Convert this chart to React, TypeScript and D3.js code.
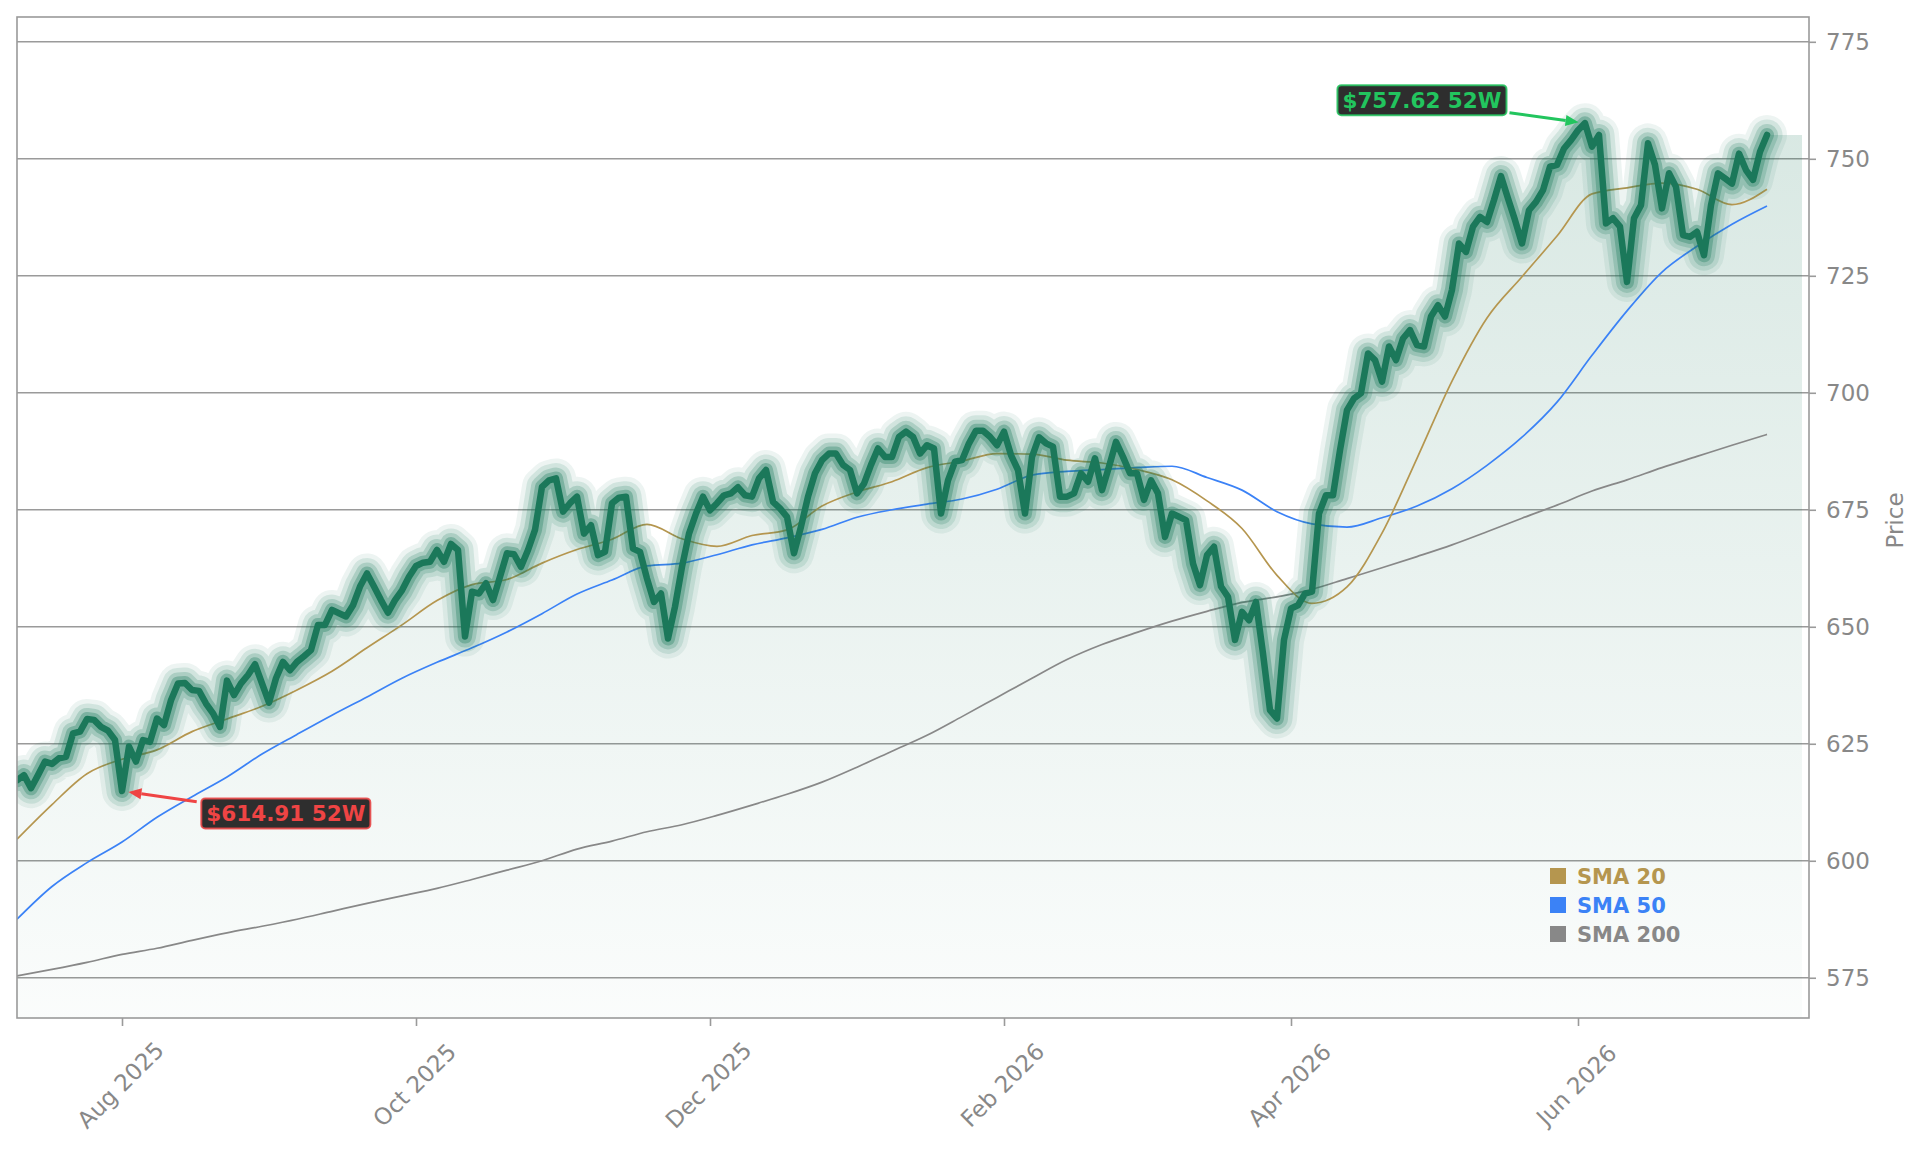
import React, { useEffect, useRef } from "react";
import * as d3 from "d3";

// ---------------- DATA ----------------
const FIRST_SESSION = "2025-07-11";
const MARKET_HOLIDAYS = [
  "2025-09-01", "2025-11-27", "2025-12-25", "2026-01-01", "2026-01-19",
  "2026-02-16", "2026-04-03", "2026-05-25", "2026-06-19", "2026-07-03",
];

const closes = [
  617.2, 618.3, 615.5, 618.3, 621.2, 620.7, 621.9, 622.2, 627.2, 627.6,
  630.3, 630.1, 628.6, 627.8, 625.8, 614.91, 624.4, 621.2, 625.8, 625.4,
  630.4, 629.0, 634.3, 637.9, 638.0, 636.5, 636.3, 633.6, 631.5, 628.6,
  638.5, 635.4, 637.9, 639.7, 642.0, 637.9, 633.8, 639.0, 642.5, 640.7,
  642.5, 643.7, 645.0, 650.4, 650.4, 653.6, 652.9, 652.2, 654.6, 658.6,
  661.4, 658.6, 655.7, 653.0, 655.7, 657.8, 660.7, 663.0, 663.7, 663.9,
  666.4, 663.9, 667.7, 666.4, 647.9, 657.5, 657.1, 659.3, 655.7, 660.7,
  665.7, 665.5, 662.8, 666.4, 670.7, 679.9, 681.3, 681.7, 674.6, 676.4,
  677.8, 669.9, 671.7, 665.3, 666.0, 676.4, 677.6, 677.8, 666.7, 666.0,
  660.3, 655.3, 657.1, 647.5, 654.3, 662.8, 669.9, 674.2, 677.8, 674.9,
  676.4, 678.1, 678.5, 679.8, 678.1, 677.8, 681.7, 683.5, 676.7, 675.3,
  673.5, 665.7, 671.4, 677.8, 682.8, 685.6, 687.0, 687.0, 684.6, 683.5,
  678.5, 680.6, 684.6, 688.1, 686.3, 686.3, 690.6, 691.7, 690.6, 687.0,
  688.8, 688.1, 674.2, 681.3, 685.3, 685.6, 689.2, 691.9, 691.9, 690.6,
  688.8, 691.7, 686.7, 683.5, 674.2, 686.3, 690.5, 689.2, 688.5, 677.8,
  677.8, 678.5, 682.8, 681.0, 686.0, 679.2, 684.2, 689.5, 686.3, 682.8,
  682.8, 677.1, 681.3, 678.5, 669.2, 674.2, 673.5, 672.8, 663.5, 658.9,
  665.3, 667.1, 658.6, 656.4, 647.2, 653.2, 651.4, 655.3, 644.3, 632.2,
  630.4, 647.2, 653.9, 654.6, 657.1, 657.5, 674.2, 678.1, 678.1, 687.7,
  696.3, 698.8, 699.9, 708.4, 707.0, 702.4, 709.9, 707.0, 711.6, 713.4,
  710.2, 709.9, 716.3, 718.7, 716.3, 722.0, 731.9, 730.1, 735.5, 737.6,
  736.5, 741.2, 746.3, 741.5, 736.9, 731.9, 739.0, 740.8, 743.3, 748.3,
  748.7, 752.2, 754.0, 756.1, 757.62, 752.6, 755.1, 736.2, 737.3, 735.5,
  723.7, 737.3, 740.1, 753.3, 748.7, 739.4, 746.9, 744.0, 733.7, 733.3,
  734.4, 729.4, 740.1, 746.9, 745.8, 744.7, 751.1, 747.6, 745.5, 751.5,
  755.1,
];

// moving averages, read every SMA_SAMPLE_STEP sessions
const SMA_SAMPLE_STEP = 5;
const sma20 = [
  604.6, 612.0, 618.6, 621.7, 623.7, 627.6, 630.3, 633.0, 636.5, 640.5,
  645.5, 650.4, 655.6, 659.0, 660.1, 663.6, 666.5, 668.7, 671.9, 668.8,
  667.2, 669.5, 670.7, 675.8, 678.8, 681.0, 684.0, 685.4, 687.0, 686.9,
  685.6, 685.0, 683.6, 681.4, 676.9, 671.0, 661.0, 655.0, 658.5, 670.0,
  686.0, 702.5, 716.0, 724.8, 733.5, 742.5, 743.8, 744.8, 743.5, 740.2,
  743.5,
];
const sma50 = [
  587.5, 594.5, 599.6, 604.0, 609.3, 613.7, 617.9, 622.8, 627.0, 631.1,
  635.0, 639.0, 642.4, 645.5, 648.9, 652.8, 657.0, 660.0, 663.0, 663.6,
  665.4, 667.5, 669.0, 670.8, 673.4, 675.0, 676.2, 677.3, 679.4, 682.4,
  683.2, 683.6, 684.0, 684.3, 681.9, 679.2, 674.6, 672.0, 671.3, 673.3,
  675.8, 679.5, 684.5, 690.5, 698.0, 708.0, 717.5, 725.8, 731.3, 736.0,
  739.9,
];
const sma200 = [
  575.4, 576.8, 578.3, 580.0, 581.3, 583.0, 584.6, 586.0, 587.5, 589.2,
  590.9, 592.5, 594.1, 596.0, 598.0, 600.0, 602.5, 604.2, 606.2, 607.7,
  609.7, 611.9, 614.2, 616.8, 620.0, 623.4, 626.8, 630.8, 634.9, 639.0,
  643.0, 646.2, 648.8, 651.2, 653.3, 655.2, 656.4, 658.0, 660.3, 662.6,
  665.0, 667.5, 670.3, 673.2, 676.0, 679.0, 681.4, 684.0, 686.4, 688.8,
  691.1,
];

const priceTicks = [575, 600, 625, 650, 675, 700, 725, 750, 775];
const monthTicks = ["2025-08", "2025-10", "2025-12", "2026-02", "2026-04", "2026-06"];
const smaNames = ["SMA 20", "SMA 50", "SMA 200"];
const Y_AXIS_TITLE = "Price";
const EXTREME_SUFFIX = "52W";

// ---------------- LAYOUT / STYLE ----------------
const W = 1921;
const H = 1151;
const PLOT = { left: 17, top: 17, right: 1809, bottom: 1018 };
const Y_DOMAIN: [number, number] = [566.4, 780.3];
const X_PAD_SESSIONS = 6;
const AREA_EXTEND_SESSIONS = 5;
const FONT = "'DejaVu Sans', Verdana, sans-serif";
const TICK_FONT = 23;
const GRID = "#9a9a9a";
const LABEL = "#888888";
const PRICE = "#1b785a";
const SMA_COLORS = ["#b5964f", "#3b82f6", "#888888"];
const HI = "#22c55e";
const LO = "#ef4444";
const GLOW = [
  { w: 40, o: 0.08 },
  { w: 31, o: 0.13 },
  { w: 22, o: 0.2 },
  { w: 14, o: 0.33 },
];

type Pt = { i: number; v: number };

function buildSessions(start: string, count: number, holidays: string[]): Date[] {
  const parse = d3.timeParse("%Y-%m-%d");
  const fmt = d3.timeFormat("%Y-%m-%d");
  const hs = new Set(holidays);
  const out: Date[] = [];
  let d = parse(start) as Date;
  while (out.length < count) {
    const wd = d.getDay();
    if (wd !== 0 && wd !== 6 && !hs.has(fmt(d))) out.push(d);
    d = d3.timeDay.offset(d, 1);
  }
  return out;
}

export default function App() {
  const ref = useRef<SVGSVGElement | null>(null);

  useEffect(() => {
    document.body.style.margin = "0";
    const el = ref.current;
    if (!el) return;
    const svg = d3.select(el);
    svg.selectAll("*").remove();

    const n = closes.length;
    const sessions = buildSessions(FIRST_SESSION, n, MARKET_HOLIDAYS);
    const x = d3.scaleLinear().domain([0, n - 1 + X_PAD_SESSIONS]).range([PLOT.left, PLOT.right]);
    const y = d3.scaleLinear().domain(Y_DOMAIN).range([PLOT.bottom, PLOT.top]);

    const pts: Pt[] = closes.map((v, i) => ({ i, v }));
    const maxV = d3.max(closes) as number;

    const defs = svg.append("defs");
    const grad = defs
      .append("linearGradient")
      .attr("id", "priceFill")
      .attr("gradientUnits", "userSpaceOnUse")
      .attr("x1", 0).attr("x2", 0)
      .attr("y1", y(maxV)).attr("y2", PLOT.bottom);
    grad.append("stop").attr("offset", 0).attr("stop-color", PRICE).attr("stop-opacity", 0.17);
    grad.append("stop").attr("offset", 1).attr("stop-color", PRICE).attr("stop-opacity", 0.02);
    defs.append("clipPath").attr("id", "plotClip").append("rect")
      .attr("x", PLOT.left).attr("y", PLOT.top)
      .attr("width", PLOT.right - PLOT.left).attr("height", PLOT.bottom - PLOT.top);

    svg.append("rect").attr("width", W).attr("height", H).attr("fill", "#ffffff");

    // grid
    svg.append("g").selectAll("line").data(priceTicks).join("line")
      .attr("x1", PLOT.left).attr("x2", PLOT.right)
      .attr("y1", (d) => y(d)).attr("y2", (d) => y(d))
      .attr("stroke", GRID).attr("stroke-width", 1.6);

    const plot = svg.append("g").attr("clip-path", "url(#plotClip)");

    // area
    const areaPts: Pt[] = [...pts, { i: n - 1 + AREA_EXTEND_SESSIONS, v: closes[n - 1] }];
    plot.append("path").datum(areaPts)
      .attr("d", d3.area<Pt>().x((d) => x(d.i)).y0(PLOT.bottom).y1((d) => y(d.v)))
      .attr("fill", "url(#priceFill)");

    // SMA lines
    const smaSeries = [sma20, sma50, sma200];
    const smaLine = d3.line<number>()
      .x((_, k) => x(k * SMA_SAMPLE_STEP))
      .y((d) => y(d))
      .curve(d3.curveMonotoneX);
    [2, 1, 0].forEach((s) => {
      plot.append("path").datum(smaSeries[s])
        .attr("d", smaLine)
        .attr("fill", "none")
        .attr("stroke", SMA_COLORS[s])
        .attr("stroke-width", 1.7);
    });

    // price glow + line
    const priceLine = d3.line<Pt>().x((d) => x(d.i)).y((d) => y(d.v));
    GLOW.forEach((g) => {
      plot.append("path").datum(pts).attr("d", priceLine)
        .attr("fill", "none").attr("stroke", PRICE)
        .attr("stroke-width", g.w).attr("stroke-opacity", g.o)
        .attr("stroke-linejoin", "round").attr("stroke-linecap", "round");
    });
    plot.append("path").datum(pts).attr("d", priceLine)
      .attr("fill", "none").attr("stroke", PRICE)
      .attr("stroke-width", 6.5)
      .attr("stroke-linejoin", "round").attr("stroke-linecap", "round");

    // frame
    svg.append("rect")
      .attr("x", PLOT.left).attr("y", PLOT.top)
      .attr("width", PLOT.right - PLOT.left).attr("height", PLOT.bottom - PLOT.top)
      .attr("fill", "none").attr("stroke", GRID).attr("stroke-width", 1.6);

    // y axis (right)
    const yAxis = svg.append("g")
      .attr("transform", `translate(${PLOT.right},0)`)
      .call(d3.axisRight(y).tickValues(priceTicks).tickSize(7).tickPadding(10).tickFormat(d3.format("d")));
    yAxis.select(".domain").remove();
    yAxis.selectAll("line").attr("stroke", GRID).attr("stroke-width", 1.6);
    yAxis.selectAll("text").attr("fill", LABEL).attr("font-family", FONT).attr("font-size", TICK_FONT);

    svg.append("text")
      .attr("transform", `translate(1903,${(PLOT.top + PLOT.bottom) / 2 + 3}) rotate(-90)`)
      .attr("text-anchor", "middle")
      .attr("fill", LABEL).attr("font-family", FONT).attr("font-size", TICK_FONT)
      .text(Y_AXIS_TITLE);

    // x axis (bottom)
    const monthKey = d3.timeFormat("%Y-%m");
    const tickIdx = monthTicks
      .map((m) => sessions.findIndex((d) => monthKey(d) === m))
      .filter((k) => k >= 0);
    const fmtMonth = d3.timeFormat("%b %Y");
    const xAxis = svg.append("g")
      .attr("transform", `translate(0,${PLOT.bottom})`)
      .call(d3.axisBottom(x).tickValues(tickIdx).tickSize(8)
        .tickFormat((d) => fmtMonth(sessions[d as number])));
    xAxis.select(".domain").remove();
    xAxis.selectAll("line").attr("stroke", GRID).attr("stroke-width", 1.6);
    xAxis.selectAll("text")
      .attr("y", 0).attr("dy", "0.35em")
      .attr("transform", "translate(-2,67) rotate(-45)")
      .attr("text-anchor", "middle")
      .attr("fill", LABEL).attr("font-family", FONT).attr("font-size", TICK_FONT);

    // legend
    const legend = svg.append("g").attr("transform", "translate(1550,876)");
    smaNames.forEach((name, k) => {
      const row = legend.append("g").attr("transform", `translate(0,${k * 29})`);
      row.append("rect").attr("x", 0).attr("y", -8).attr("width", 16).attr("height", 16)
        .attr("fill", SMA_COLORS[k]);
      row.append("text").attr("x", 27).attr("y", 0).attr("dy", "0.36em")
        .attr("fill", SMA_COLORS[k]).attr("font-family", FONT)
        .attr("font-weight", "bold").attr("font-size", 21)
        .text(name);
    });

    // 52W extremes
    const hiIdx = d3.maxIndex(closes);
    const loIdx = d3.minIndex(closes);
    const annotate = (idx: number, color: string, side: "hi" | "lo") => {
      const px = x(idx);
      const py = y(closes[idx]);
      const g = svg.append("g");
      const rect = g.append("rect");
      const txt = g.append("text")
        .attr("font-family", FONT).attr("font-weight", "bold").attr("font-size", 21.5)
        .attr("fill", color)
        .text(`$${closes[idx].toFixed(2)} ${EXTREME_SUFFIX}`);
      const tw = (txt.node() as SVGTextElement).getComputedTextLength();
      const bw = tw + 10;
      const bh = 30;
      const bx = side === "hi" ? px - 78.5 - bw : px + 79.3;
      const by = side === "hi" ? py - 38 : py + 7.4;
      rect.attr("x", bx).attr("y", by).attr("width", bw).attr("height", bh)
        .attr("rx", 4).attr("fill", "#2e2e2e").attr("stroke", color)
        .attr("stroke-width", 2).attr("stroke-opacity", 0.85);
      txt.attr("x", bx + 5).attr("y", by + bh / 2).attr("dy", "0.36em");
      const sx = side === "hi" ? bx + bw + 3 : bx - 4.6;
      const sy = side === "hi" ? by + 27.7 : by + 3.4;
      const dx = px - sx;
      const dy = py - sy;
      const len = Math.hypot(dx, dy);
      const ux = dx / len;
      const uy = dy / len;
      const gap = 6.5;
      const tx = px - ux * gap;
      const ty = py - uy * gap;
      const head = 13;
      const hw = 5.5;
      const bxh = tx - ux * head;
      const byh = ty - uy * head;
      g.append("line").attr("x1", sx).attr("y1", sy).attr("x2", bxh).attr("y2", byh)
        .attr("stroke", color).attr("stroke-width", 3);
      g.append("path")
        .attr("d", `M${tx},${ty}L${bxh - uy * hw},${byh + ux * hw}L${bxh + uy * hw},${byh - ux * hw}Z`)
        .attr("fill", color);
    };
    annotate(hiIdx, HI, "hi");
    annotate(loIdx, LO, "lo");
  }, []);

  return (
    <svg
      ref={ref}
      width={W}
      height={H}
      style={{ display: "block", position: "absolute", left: 0, top: 0 }}
    />
  );
}
